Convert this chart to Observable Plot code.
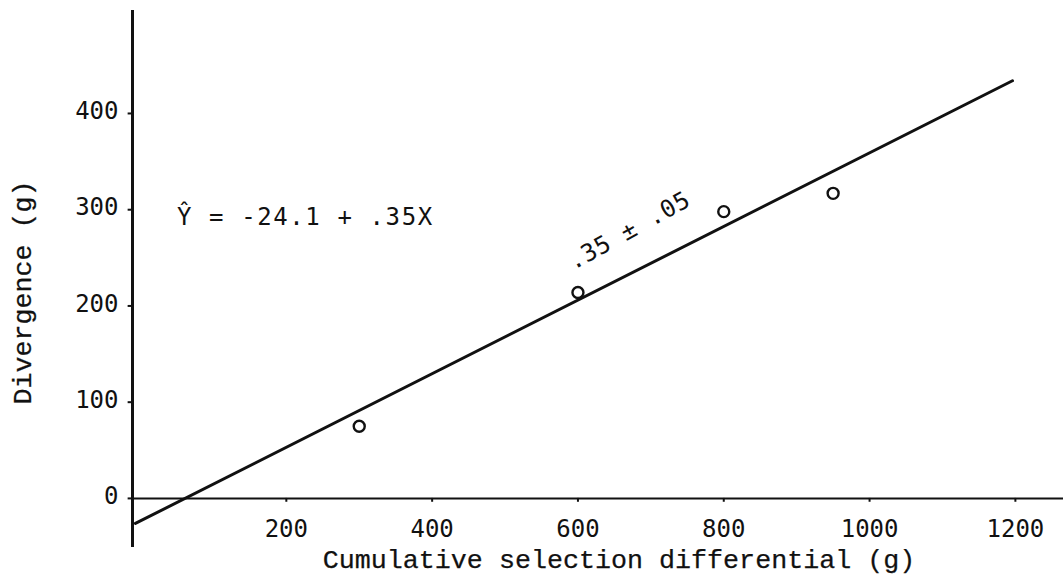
<!DOCTYPE html>
<html>
<head>
<meta charset="utf-8">
<script src="https://cdn.jsdelivr.net/npm/d3@7"></script>
<script src="https://cdn.jsdelivr.net/npm/@observablehq/plot@0.6"></script>
<style>
  html, body { margin: 0; padding: 0; background: #fff; }
  #chart svg { display: block; }
</style>
</head>
<body>
<div id="chart"></div>
<script>
// Observed points (cumulative selection differential, divergence)
const selDiff = [300, 600, 800, 950];
const divergence = [75, 214, 298, 317];

// Fitted line as drawn (endpoints)
const lineX = [-7, 1196];
const lineY = [-26, 434];

// Axis ticks
const xTicks = [200, 400, 600, 800, 1000, 1200];
const yTicks = [0, 100, 200, 300, 400];

// Annotations
const equationText = "Ŷ = -24.1 + .35X";
const equationPos = {x: 50, y: 284};
const slopeText = ".35 ± .05";
const slopePos = {x: 594, y: 237};

const xTitle = "Cumulative selection differential (g)";
const yTitle = "Divergence (g)";

const points = selDiff.map((x, i) => ({x, y: divergence[i]}));
const fit = lineX.map((x, i) => ({x, y: lineY[i]}));

const yAxisAt = -11;
const ink = "#111";
const monoSerif = "Liberation Mono, monospace";
const monoSans = "DejaVu Sans Mono, monospace";

const chart = Plot.plot({
  width: 1063,
  height: 581,
  marginLeft: 132,
  marginRight: 0,
  marginTop: 10,
  marginBottom: 34,
  x: {domain: [yAxisAt, 1266], axis: null},
  y: {domain: [-51, 507], axis: null},
  style: {background: "#fff", color: ink},
  marks: [
    // axes lines
    Plot.ruleY([0], {stroke: ink, strokeWidth: 2}),
    Plot.ruleX([yAxisAt], {stroke: ink, strokeWidth: 3}),
    // tick marks
    Plot.ruleX(xTicks, {x: d => d, y1: () => 0, y2: () => -4, stroke: ink, strokeWidth: 2}),
    Plot.ruleY(yTicks, {y: d => d, x1: () => yAxisAt, x2: () => yAxisAt - 6, stroke: ink, strokeWidth: 2}),
    // tick labels
    Plot.text(xTicks, {x: d => d, y: () => 0, text: d => String(d), dy: 39, lineAnchor: "bottom",
      fontFamily: monoSans, fontSize: 24, fill: ink}),
    Plot.text(yTicks, {x: () => yAxisAt, y: d => d, text: d => String(d), dx: -14, dy: -2, textAnchor: "end",
      lineAnchor: "middle", fontFamily: monoSans, fontSize: 24, fill: ink}),
    // fitted line
    Plot.line(fit, {x: "x", y: "y", stroke: ink, strokeWidth: 3}),
    // data points
    Plot.dot(points, {x: "x", y: "y", r: 5.5, stroke: ink, strokeWidth: 2.4, fill: "none"}),
    // equation
    Plot.text([equationText], {x: () => equationPos.x, y: () => equationPos.y, text: d => d,
      textAnchor: "start", lineAnchor: "bottom", fontFamily: monoSans, fontSize: 24, fill: ink}),
    // slope label
    Plot.text([slopeText], {x: () => slopePos.x, y: () => slopePos.y, text: d => d,
      textAnchor: "start", lineAnchor: "bottom", rotate: -29, fontFamily: monoSans, fontSize: 24, fill: ink}),
    // axis titles
    Plot.text([xTitle], {frameAnchor: "bottom", text: d => d, dx: 21, dy: 20, lineAnchor: "bottom",
      textAnchor: "middle", fontFamily: monoSerif, fontSize: 26.7, fill: ink, stroke: ink, strokeWidth: 0.25}),
    Plot.text([yTitle], {frameAnchor: "left", text: d => d, dx: -110, dy: 13.5, rotate: -90,
      textAnchor: "middle", lineAnchor: "middle", fontFamily: monoSerif, fontSize: 26.7, fill: ink,
      stroke: ink, strokeWidth: 0.25})
  ]
});
// typewriter spacing for the annotations
d3.select(chart).selectAll("text").each(function () {
  if (this.textContent === equationText) this.style.letterSpacing = "1.6px";
  if (this.textContent === slopeText) this.style.letterSpacing = "0.6px";
});
document.getElementById("chart").appendChild(chart);
</script>
</body>
</html>
